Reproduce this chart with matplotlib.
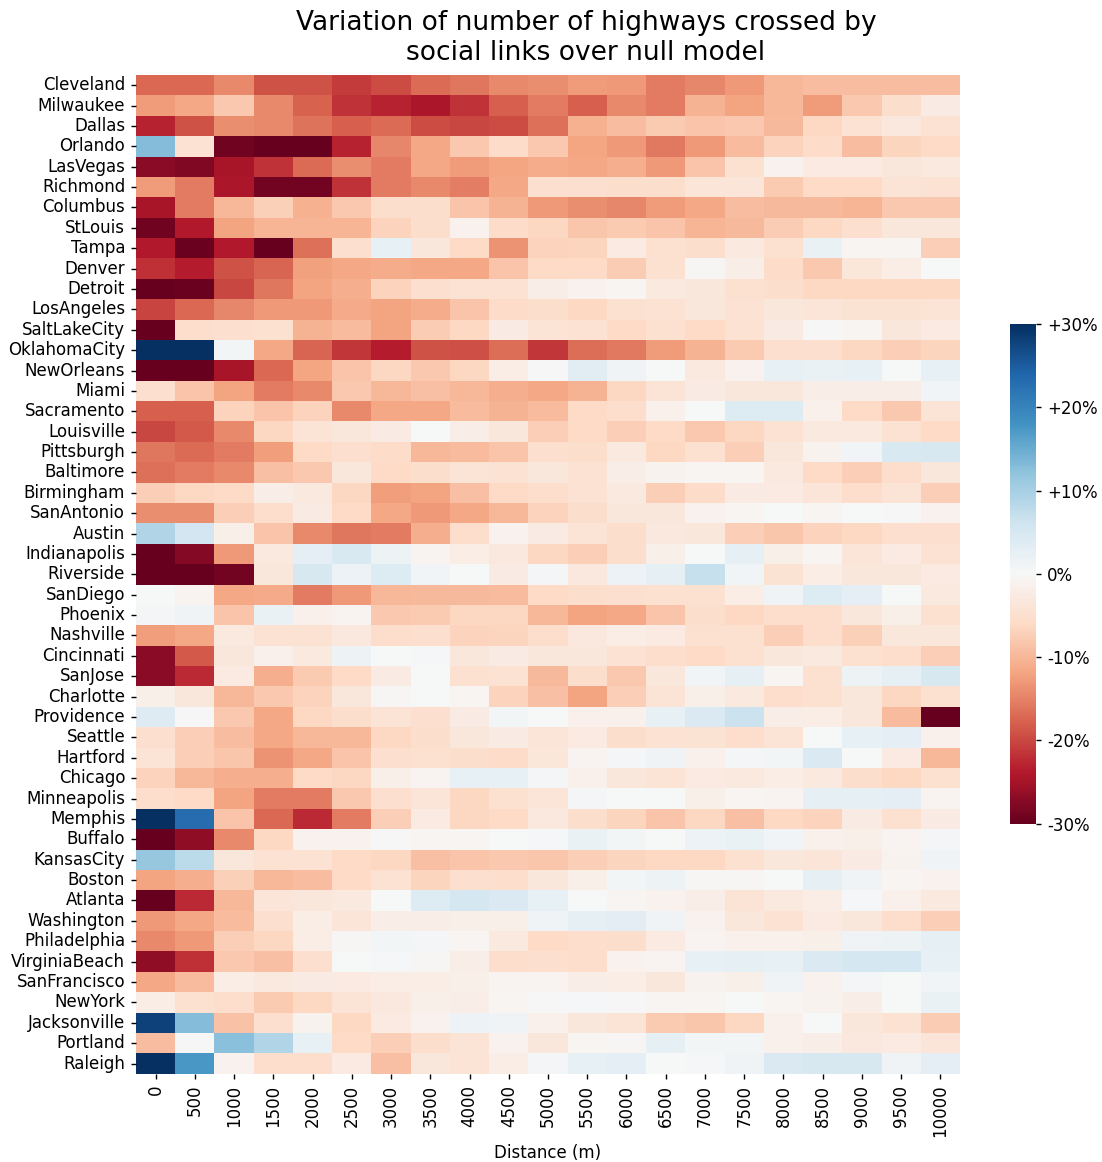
import matplotlib
matplotlib.use("Agg")
import matplotlib.pyplot as plt
import seaborn as sns
import numpy as np

cities = ["Cleveland","Milwaukee","Dallas","Orlando","LasVegas","Richmond","Columbus","StLouis","Tampa","Denver","Detroit","LosAngeles","SaltLakeCity","OklahomaCity","NewOrleans","Miami","Sacramento","Louisville","Pittsburgh","Baltimore","Birmingham","SanAntonio","Austin","Indianapolis","Riverside","SanDiego","Phoenix","Nashville","Cincinnati","SanJose","Charlotte","Providence","Seattle","Hartford","Chicago","Minneapolis","Memphis","Buffalo","KansasCity","Boston","Atlanta","Washington","Philadelphia","VirginiaBeach","SanFrancisco","NewYork","Jacksonville","Portland","Raleigh"]
distances = list(range(0, 10001, 500))
values = [
[-17.3,-17.3,-14.5,-19,-19,-21,-19.5,-17,-16,-14.5,-14,-12.7,-13,-15.7,-14.7,-13,-10,-9.2,-9.2,-9.2,-9.2],
[-12.7,-11.5,-8,-14.5,-17.7,-21.7,-23,-24.5,-21.7,-18,-15.5,-18,-14.5,-15.5,-10.5,-12,-10,-12.7,-8.2,-5.2,-2.5],
[-23,-19,-14,-14.5,-16.2,-18,-17,-19.5,-20,-19.5,-16.5,-10.7,-9.2,-7.8,-8.6,-8.2,-9.7,-6.3,-4.5,-3.2,-4.5],
[13,-4.6,-29.2,-30,-30,-23,-14.7,-11.7,-8,-5.7,-8,-11.8,-13,-15.8,-13,-9.4,-7,-5.8,-9.3,-6.6,-6],
[-27,-27.8,-24.7,-21.7,-17,-14,-15.7,-11.6,-12.8,-11.8,-11.2,-11.5,-11,-13,-8.6,-4.7,-1.2,-2.7,-2.7,-3.4,-3],
[-12.7,-15.5,-24.5,-29,-29,-21.6,-15.7,-14.3,-15.4,-11.7,-5,-5,-5.2,-5.3,-3.9,-3.9,-7.8,-6,-6,-4,-4.5],
[-24.7,-15.5,-10,-7.2,-10.7,-8,-5.2,-5.2,-8.5,-10.5,-13,-14,-14.7,-12.7,-11.6,-9.2,-9.7,-9.7,-10.2,-8,-8.2],
[-29.2,-24,-12,-10.2,-10.2,-10.2,-7,-5.2,-1.4,-5.8,-6.5,-8.4,-7.8,-8.5,-10.2,-9.7,-7.6,-6.2,-5,-3.4,-3.4],
[-24,-29.6,-24,-30,-16.5,-5,2.5,-3.4,-6,-13.4,-7,-6.6,-2.8,-4.8,-5.2,-3,-4.8,2,-0.6,-0.6,-7.5],
[-22,-23.5,-19,-17.5,-12.2,-11.6,-11.2,-11.7,-11.7,-8.5,-6,-6,-7.6,-4.8,-0.3,-2,-5.8,-8,-3.6,-2.2,0],
[-30,-29.6,-20,-16,-12,-11,-7,-5,-4.6,-4.6,-2,-1.2,-0.6,-3,-3.4,-4.8,-5.3,-6.2,-6.2,-6.2,-6.2],
[-20.3,-17.3,-14.6,-13,-13,-11.3,-12,-11.2,-8.5,-5.8,-5.2,-6.3,-4.8,-4.5,-3.4,-4.5,-3.4,-3.8,-4.4,-4.4,-4.2],
[-30,-5.6,-5,-4.8,-10.5,-9.5,-12,-7.6,-6.2,-2.4,-4,-4.5,-6,-4.9,-6,-4.6,-2.4,-0.2,-0.6,-3.4,-2.6],
[30,30,0.8,-11.7,-17.5,-21.4,-23.5,-19,-19.4,-16.8,-21.5,-16.7,-15.8,-12.7,-10.5,-7.8,-5,-5,-6.4,-7.5,-6.6],
[-30,-30,-24.7,-17.2,-11.8,-8.6,-6.4,-8,-6.4,-2.3,-0.1,3.3,1.2,0,-3,-1.2,2.5,2,2.5,0.2,2.5],
[-5,-8.5,-12,-15.5,-14.5,-8,-10,-9,-10,-11,-11.5,-10.5,-6.5,-4,-2.5,-3.5,-3.5,-2,-2,-2,1],
[-18,-18,-7,-8.5,-7,-14.5,-11.5,-11.5,-9.5,-10.5,-9.5,-6,-5.5,-1.5,0,4,4,-1.5,-6,-8,-4],
[-20,-18.5,-14.5,-6.5,-4,-3.5,-2.5,0,-2,-3.5,-7.5,-6,-7.5,-6,-8,-6.5,-4.5,-3,-3,-4.5,-6],
[-16,-17,-15.5,-12.5,-6,-5,-5.8,-10,-9.5,-8.5,-5,-5.2,-3,-6.3,-4.8,-7.5,-3.3,-1,1,4.8,5],
[-16.5,-15.5,-14.5,-9,-8,-3.5,-6,-5.3,-4,-4.5,-3.5,-4.5,-2,-1,-0.5,-0.7,-3,-6,-7.5,-5.5,-3.5],
[-7.5,-6.3,-6,-2,-3,-6.5,-12.5,-12,-9,-6,-5.5,-4.5,-3,-7.5,-5.8,-2.5,-2.7,-3.8,-5.5,-4,-7.5],
[-14,-14,-7.3,-5.5,-2.5,-6,-11.5,-13,-11.5,-10,-7,-5.2,-3.5,-3.3,-1.2,-0.5,0.2,-0.6,0,-0.2,-1.2],
[9,5.5,-1.8,-8.5,-14.5,-16,-15.5,-11,-5.5,-1.3,-2.5,-4,-5.3,-3.2,-3.5,-7.3,-8.3,-7,-6.2,-5,-5],
[-30,-27.5,-13,-3,3,4.8,1.5,-0.8,-2.3,-3.2,-6.5,-7.3,-5.3,-1.8,0,2.6,-1.7,-0.7,-3.8,-2.7,-4.5],
[-30,-30,-29,-3.5,5,1.8,4,1,0,-2.5,0.7,-3.2,1.8,2.8,7,1,-4.3,-2.3,-3.5,-3.3,-2.7],
[0,-0.8,-11.5,-11.3,-15.5,-13,-10,-9.7,-9.7,-9.5,-6,-5.2,-5,-4.8,-4.8,-2.2,1.2,4.2,3,0,-3],
[0.7,1.3,-8.5,2,-1.5,-0.8,-8,-7.8,-6.5,-6.5,-10,-12,-11.5,-8.5,-5.2,-6.3,-5.5,-5.5,-3.5,-1.7,-4.7],
[-12.5,-11.5,-3,-4.5,-4.5,-3.2,-5.5,-5,-7,-6.7,-5.5,-3.2,-2.2,-2.8,-4.8,-4.8,-7.5,-5.5,-7.2,-3.5,-3.5],
[-27,-18.5,-3.5,-1.5,-3,1.5,0,0.3,-3.5,-2.5,-3.5,-3.3,-4.5,-5.5,-6,-4.8,-3.5,-3,-4.8,-5.5,-7.5],
[-27,-22.5,-2.7,-11,-7.8,-6,-2.5,0,-4.8,-4.6,-9.7,-5.2,-8,-3.3,1,2.8,-0.6,-4.8,1.6,2.6,5],
[-1.8,-3.5,-10,-8,-7,-3.3,-0.3,0,-0.5,-7,-9,-12,-7.5,-4,-1.8,-3,-5.4,-4.8,-3.5,-6.5,-4.8],
[3.8,-0.1,-8,-11.7,-6.3,-5.2,-4,-5,-2.5,0.8,0,-1.5,-1.5,2.5,4.5,6.5,-2,-2.3,-3.3,-9.5,-30],
[-5,-7.3,-9.2,-11.5,-10,-10,-6.3,-5.2,-3.5,-2.5,-3.8,-2.8,-5.3,-4.5,-4.3,-5.4,-4,0,2.5,3,-1.5],
[-4,-7.5,-8.3,-13.5,-11.5,-8.5,-5,-4.8,-5.3,-5.7,-3.7,-0.8,0.5,1.2,-1.5,0.5,0.8,4.3,0.2,-2.7,-10],
[-7,-10,-11,-11,-6,-6.5,-1.8,-0.8,2.5,2.5,0.7,-1.5,-3.3,-4,-2.8,-3,-2.2,-3,-5.3,-6.2,-4.8],
[-5.6,-6,-12,-15.5,-15.7,-8,-5,-3.8,-6.5,-4.8,-3.8,0.7,0,0.2,-1.7,-0.6,-0.8,2.8,2.6,2.9,-0.8],
[30,23,-8.5,-17.3,-22.5,-15.5,-7.5,-2.8,-6.4,-6,-3.2,-5.2,-6.7,-8.5,-6.5,-9,-6.2,-7,-2.5,-4.8,-2.5],
[-30,-26.5,-14.5,-6.3,-1.3,-1.3,-0.1,-0.7,-0.6,0,0.4,2,0.8,0.2,1.8,2,1,-1.5,-1.8,-0.8,0.7],
[11.5,8,-3.5,-4.5,-4.5,-6,-6.5,-9,-8.5,-8.2,-8.3,-7.5,-6.6,-6.3,-6.2,-4.8,-3.5,-3.8,-2.5,-1,1.2],
[-12,-11,-7.2,-10,-9.2,-6,-4.5,-6.7,-5,-5.5,-3.5,-1.8,0.8,1.5,-0.3,-0.4,0.2,2.6,1.2,-0.6,-1.3],
[-30,-22.3,-10,-3.8,-3.3,-3,0,4,5.2,4.6,2.5,0,-0.6,-1.3,-2,-4,-3,-2.3,0.3,-1.5,-3],
[-13,-11.5,-9.5,-5,-2.2,-3.8,-2,-2,-1.8,-1.8,1.3,2.6,3.2,1.2,-1.3,-3.3,-4.6,-2.8,-3.4,-5.4,-7.5],
[-14.5,-13,-7.5,-6.5,-2.2,-0.4,0.8,0.5,-0.7,-3,-6,-5.5,-5.3,-2.7,-0.8,-1.5,-1.5,-1.7,1.2,1.5,2.8],
[-26.5,-22,-8,-9,-5,0,0.3,-0.3,-2,-5.5,-5,-5.5,-1.4,-0.8,2.4,2.7,2.5,4.4,5.2,5.2,2.4],
[-11.5,-9.5,-2.3,-3,-2.5,-2.7,-2.3,-2.3,-1.7,-0.8,-0.8,-2,-2.2,-3.3,-1.1,-1.7,1.3,-1.2,0.5,0,1],
[-2.2,-4.8,-5.4,-7.8,-6.3,-4.2,-3.2,-1.8,-2,-0.5,-0.1,0.4,-0.1,-0.6,-0.6,0.1,-0.6,-1.1,-2,0,2],
[28,13,-8.7,-5,-1,-6.3,-2.7,-1.4,1.8,1.4,-1.6,-3.4,-4.2,-7.8,-8.3,-6.4,-1.5,0,-3.5,-4.6,-7.6],
[-9.2,-0.2,12.5,9,2.4,-6,-7.3,-5.2,-4.2,-1.3,-3.5,-0.7,-0.4,2.6,0.8,0.8,-1.6,-1.9,-3.2,-2.8,-3.8],
[30,17.5,-1.3,-5.6,-5.6,-2.8,-9,-3.4,-4.2,-2.2,0.6,2.4,2.9,0.1,0.3,1.4,4.4,5,5,1.2,2.9],
]
title = "Variation of number of highways crossed by\nsocial links over null model"
cbar_ticks = [-30,-20,-10,0,10,20,30]
cbar_labels = ["-30%","-20%","-10%","0%","+10%","+20%","+30%"]

W, H = 1102, 1162
fig = plt.figure(figsize=(W/100, H/100), dpi=100)
ax = fig.add_axes([136/W, 1-1073.7/H, 824/W, 998.7/H])
cax = fig.add_axes([1010/W, 1-823.7/H, 26.3/W, 499.7/H])
sns.heatmap(np.array(values), ax=ax, cbar_ax=cax, cmap="RdBu", vmin=-30, vmax=30,
            xticklabels=distances, yticklabels=cities)
ax.set_yticklabels(cities, rotation=0, fontsize=12)
ax.set_xticklabels(distances, rotation=90, fontsize=12)
ax.tick_params(axis='both', length=3.8, width=1.0, pad=4)
ax.set_xlabel("Distance (m)", fontsize=12, labelpad=5)
ax.set_ylabel("")
fig.text(586/W, 1-59.5/H, title, fontsize=19, ha='center', va='baseline', multialignment='center')
cax.set_yticks(cbar_ticks)
cax.set_yticklabels(cbar_labels, fontsize=12)
cax.tick_params(axis='y', length=3.8, width=1.0, pad=4)
fig.savefig("out.png", dpi=100)
